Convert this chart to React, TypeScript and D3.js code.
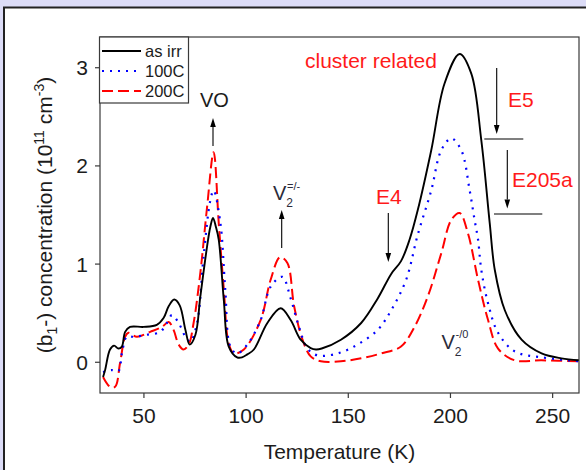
import React from 'react';
import * as d3 from 'd3';

const W = 586;
const H = 470;

// DLTS-derived (b1-) concentration versus temperature, three annealing states
const tempAsIrr = [30, 31, 33.4, 35.4, 37.5, 39.2, 40.8, 43.2, 49.8, 56.3, 59.6, 62.1, 64.8, 67.5, 70.3, 72.4, 75.2, 77.6, 80.9, 82.5, 83.8, 85.2, 86.6, 89.1, 91.5, 95.6, 98, 100.6, 103.8, 110.4, 116.9, 121.8, 126.7, 131.6, 134.2, 137, 146.4, 156.3, 164.4, 171, 175.8, 180, 184, 190.6, 197.1, 204.5, 210.2, 215.1, 219.2, 221.7, 226.6, 234.8, 244.6, 254.3, 263.3];
const concAsIrr = [-0.15, -0.08, 0.13, 0.17, 0.14, 0.16, 0.31, 0.36, 0.36, 0.38, 0.45, 0.57, 0.64, 0.58, 0.33, 0.18, 0.28, 0.67, 1.18, 1.38, 1.47, 1.38, 1.25, 0.63, 0.16, 0.05, 0.05, 0.08, 0.13, 0.40, 0.55, 0.43, 0.23, 0.145, 0.13, 0.14, 0.23, 0.40, 0.65, 0.90, 1.03, 1.25, 1.55, 2.16, 2.84, 3.14, 2.94, 2.26, 1.42, 0.94, 0.53, 0.23, 0.09, 0.04, 0.02];

const temp100C = [30, 34.2, 37.5, 39.2, 41.6, 44.9, 51.4, 58, 61.2, 63.7, 67, 70.3, 72.7, 76, 79.2, 82.5, 84.1, 87.4, 89.8, 92.3, 95.6, 100.6, 107.1, 112, 117.7, 121.8, 125.9, 130, 134.9, 144.8, 154.5, 164.4, 171, 178.3, 184, 190.6, 195.5, 200.4, 205.3, 209.4, 211.8, 213.5, 215.1, 218.4, 223.3, 231.5, 244.6, 263.3];
const conc100C = [-0.10, -0.08, -0.09, 0.09, 0.26, 0.26, 0.28, 0.31, 0.40, 0.48, 0.40, 0.26, 0.21, 0.40, 1.08, 1.65, 1.75, 1.42, 0.74, 0.16, 0.09, 0.18, 0.43, 0.77, 0.87, 0.65, 0.36, 0.14, 0.07, 0.09, 0.18, 0.33, 0.53, 0.84, 1.30, 1.75, 2.16, 2.28, 2.16, 1.75, 1.45, 1.25, 0.94, 0.60, 0.30, 0.11, 0.05, 0.01];

const temp200C = [30, 33.4, 35.9, 38.3, 40.8, 42.4, 46.5, 53.1, 58.8, 62.1, 64.5, 67, 69.4, 71.9, 74.3, 77.6, 80.9, 84.1, 86.6, 89.1, 91.5, 94, 98.9, 107.1, 112, 116.6, 120.2, 123.5, 127.6, 131.6, 136.6, 146.4, 156.3, 166, 175.8, 182.4, 188.9, 195.5, 200.4, 204.5, 208.6, 213.5, 218.4, 223.3, 231.5, 244.6, 263.3];
const conc200C = [-0.15, -0.25, -0.25, -0.01, 0.26, 0.30, 0.26, 0.31, 0.36, 0.41, 0.33, 0.18, 0.13, 0.18, 0.40, 0.91, 1.58, 2.14, 1.42, 0.74, 0.19, 0.09, 0.13, 0.43, 0.84, 1.07, 1.01, 0.57, 0.23, 0.06, 0.01, 0.01, 0.04, 0.09, 0.16, 0.36, 0.67, 1.11, 1.45, 1.52, 1.31, 0.84, 0.43, 0.14, 0.02, 0.02, 0.01];

const seriesNames = ['as irr', '100C', '200C'];
const xTicks = [50, 100, 150, 200, 250];
const yTicks = [0, 1, 2, 3];

const FONT = '"Liberation Sans", Arial, Helvetica, sans-serif';

const styles = [
  { stroke: '#000000', width: 1.9, dash: undefined as string | undefined },
  { stroke: '#0000ff', width: 2.2, dash: '2,6' },
  { stroke: '#ff0000', width: 2, dash: '11,5' },
];

function Arrow({ x, y1, y2 }: { x: number; y1: number; y2: number }) {
  // y2 is the tip
  const dir = y2 > y1 ? 1 : -1;
  const head = 9;
  return (
    <g>
      <line x1={x} y1={y1} x2={x} y2={y2 - dir * head} stroke="#000" strokeWidth={1.1} />
      <path d={`M${x},${y2} L${x - 2.8},${y2 - dir * head} L${x + 2.8},${y2 - dir * head} Z`} fill="#000" />
    </g>
  );
}

export default function App() {
  const x = d3.scaleLinear().domain([28.5, 262.9]).range([100, 579]);
  const y = d3.scaleLinear().domain([-0.313, 3.313]).range([393, 37]);
  const [x0, x1] = x.range();
  const [y0, y1] = y.range();

  const line = d3
    .line<[number, number]>()
    .x((d) => x(d[0]))
    .y((d) => y(d[1]))
    .curve(d3.curveCatmullRom.alpha(0.5));

  const series = [
    d3.zip(tempAsIrr, concAsIrr) as [number, number][],
    d3.zip(temp100C, conc100C) as [number, number][],
    d3.zip(temp200C, conc200C) as [number, number][],
  ];

  const textDark = '#1c1c1c';
  const vColor = '#2b2b3a';

  return (
    <svg
      width={W}
      height={H}
      style={{ position: 'absolute', left: 0, top: 0, fontFamily: FONT }}
    >
      <rect x={0} y={0} width={W} height={H} fill="#dcdcf7" />
      <rect x={4} y={7.5} width={W + 10} height={H + 10} fill="#ffffff" stroke="#222" strokeWidth={2} />

      <defs>
        <clipPath id="plot-clip">
          <rect x={x0} y={y1} width={x1 - x0} height={y0 - y1} />
        </clipPath>
      </defs>

      {/* curves: draw 200C, 100C, then as irr on top */}
      <g clipPath="url(#plot-clip)">
        {[2, 1, 0].map((i) => (
          <path
            key={i}
            d={line(series[i]) || ''}
            fill="none"
            stroke={styles[i].stroke}
            strokeWidth={styles[i].width}
            strokeDasharray={styles[i].dash}
            strokeLinejoin="round"
          />
        ))}
      </g>

      {/* frame */}
      <rect x={x0} y={y1} width={x1 - x0} height={y0 - y1} fill="none" stroke="#3a3a3a" strokeWidth={1.2} />

      {/* x axis */}
      {xTicks.map((t) => (
        <g key={t}>
          <line x1={x(t)} x2={x(t)} y1={y0} y2={y0 + 5} stroke="#3a3a3a" strokeWidth={1.2} />
          <text x={x(t)} y={423} textAnchor="middle" fontSize={21} fill={textDark}>
            {t}
          </text>
        </g>
      ))}
      {/* y axis */}
      {yTicks.map((t) => (
        <g key={t}>
          <line x1={x0 - 5} x2={x0} y1={y(t)} y2={y(t)} stroke="#3a3a3a" strokeWidth={1.2} />
          <text x={88} y={y(t) + 7.5} textAnchor="end" fontSize={21} fill={textDark}>
            {t}
          </text>
        </g>
      ))}

      <text x={(x0 + x1) / 2} y={459} textAnchor="middle" fontSize={21} fill={textDark}>
        Temperature (K)
      </text>

      <text transform={`translate(52,${(y0 + y1) / 2}) rotate(-90)`} textAnchor="middle" fontSize={21} fill={textDark}>
        <tspan>(b</tspan>
        <tspan fontSize={14} dy={5}>1</tspan>
        <tspan dy={-5}>-) concentration (10</tspan>
        <tspan fontSize={14} dy={-8}>11</tspan>
        <tspan dy={8}> cm</tspan>
        <tspan fontSize={14} dy={-8}>-3</tspan>
        <tspan dy={8}>)</tspan>
      </text>

      {/* legend */}
      <rect x={99.5} y={37} width={89} height={66} fill="#ffffff" stroke="#3a3a3a" strokeWidth={1.2} />
      {seriesNames.map((name, i) => (
        <g key={name}>
          <line
            x1={102}
            x2={141}
            y1={51 + i * 20}
            y2={51 + i * 20}
            stroke={styles[i].stroke}
            strokeWidth={styles[i].width}
            strokeDasharray={styles[i].dash}
          />
          <text x={145} y={56.5 + i * 20} fontSize={16.5} fill={textDark}>
            {name}
          </text>
        </g>
      ))}

      {/* annotations */}
      <text x={200} y={107} fontSize={20} fill={textDark}>VO</text>
      <Arrow x={213} y1={146} y2={118} />

      <text x={273} y={200} fontSize={20} fill={vColor}>
        V<tspan fontSize={12} dy={7}>2</tspan>
        <tspan fontSize={11} dx={-6} dy={-17}>=/-</tspan>
      </text>
      <Arrow x={281.7} y1={248} y2={210} />

      <text x={305} y={67.5} fontSize={21} fill="#ff1a1a">cluster related</text>

      <text x={376} y={204} fontSize={21} fill="#ff1a1a">E4</text>
      <Arrow x={388.3} y1={213} y2={262} />

      <text x={508} y={107} fontSize={21} fill="#ff1a1a">E5</text>
      <Arrow x={496.7} y1={68} y2={134} />
      <line x1={484.3} x2={523.3} y1={139} y2={139} stroke="#000" strokeWidth={1.1} />

      <text x={512} y={187} fontSize={21} fill="#ff1a1a">E205a</text>
      <Arrow x={507.3} y1={150} y2={208.5} />
      <line x1={494} x2={542.3} y1={214} y2={214} stroke="#000" strokeWidth={1.1} />

      <text x={441.5} y={349} fontSize={20} fill={vColor}>
        V<tspan fontSize={12} dy={7}>2</tspan>
        <tspan fontSize={11} dx={-6} dy={-18}>-/0</tspan>
      </text>
    </svg>
  );
}
